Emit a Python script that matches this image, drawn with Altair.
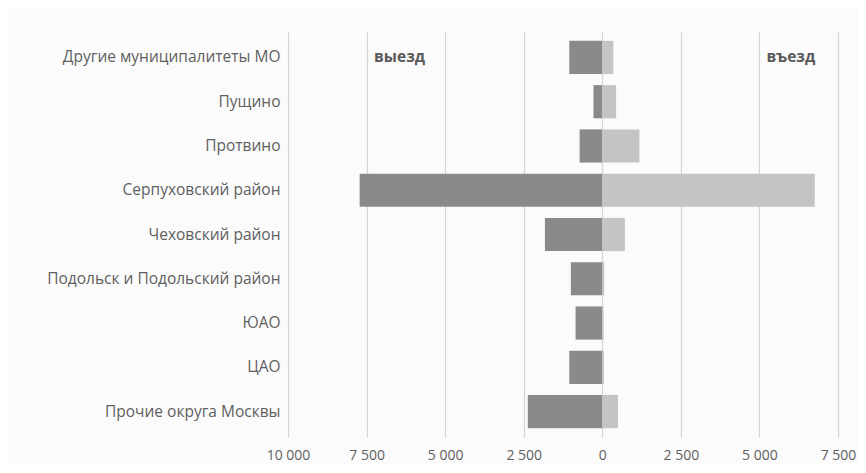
import altair as alt
import pandas as pd

categories = [
    "Другие муниципалитеты МО",
    "Пущино",
    "Протвино",
    "Серпуховский район",
    "Чеховский район",
    "Подольск и Подольский район",
    "ЮАО",
    "ЦАО",
    "Прочие округа Москвы",
]
departure = [1050, 280, 720, 7720, 1825, 1000, 850, 1050, 2370]   # выезд
arrival = [350, 440, 1180, 6760, 720, 60, 40, 50, 500]            # въезд

rows = []
for c, d, a in zip(categories, departure, arrival):
    rows.append({"cat": c, "val": -d, "dir": "выезд"})
    rows.append({"cat": c, "val": a, "dir": "въезд"})
df = pd.DataFrame(rows)

ann = pd.DataFrame({
    "cat": [categories[0], categories[0]],
    "val": [-6450, 6000],
    "txt": ["выезд", "въезд"],
})

FONT = "Open Sans"

x_scale = alt.Scale(domain=[-10000, 7500], nice=False)
y_scale = alt.Scale(domain=categories, paddingInner=0.25, paddingOuter=0.2)

bars = alt.Chart(df).mark_bar().encode(
    x=alt.X("val:Q", scale=x_scale, title=None,
            axis=alt.Axis(values=[-10000, -7500, -5000, -2500, 0, 2500, 5000, 7500],
                          labelExpr="replace(format(abs(datum.value), ','), ',', ' ')",
                          grid=True, gridColor="#d4d4d4", gridWidth=1.2,
                          domain=False, ticks=False, labelPadding=11,
                          labelFlush=False, labelOverlap=False,
                          labelFont=FONT, labelFontSize=14, labelColor="#5f5f5f")),
    y=alt.Y("cat:N", scale=y_scale, sort=categories, title=None,
            axis=alt.Axis(domain=False, ticks=False, grid=False, labelPadding=8,
                          labelFont=FONT, labelFontSize=15.5, labelColor="#5f5f5f",
                          labelLimit=400)),
    color=alt.Color("dir:N", scale=alt.Scale(domain=["выезд", "въезд"],
                                             range=["#8a8a8a", "#c4c4c4"]),
                    legend=None),
)

labels = alt.Chart(ann).mark_text(font=FONT, fontSize=15.5, fontWeight="bold",
                                  color="#5a5a5a").encode(
    x=alt.X("val:Q", scale=x_scale),
    y=alt.Y("cat:N", scale=y_scale, sort=categories),
    text="txt:N",
)

chart = alt.layer(bars, labels).properties(
    width=550, height=405,
    autosize=alt.AutoSizeParams(type="none"),
    padding={"left": 280, "top": 24, "right": 20, "bottom": 27},
    background="#fbfbfb",
).configure_view(stroke=None)

chart.save("out.html", embed_options={"renderer": "svg", "actions": False})
